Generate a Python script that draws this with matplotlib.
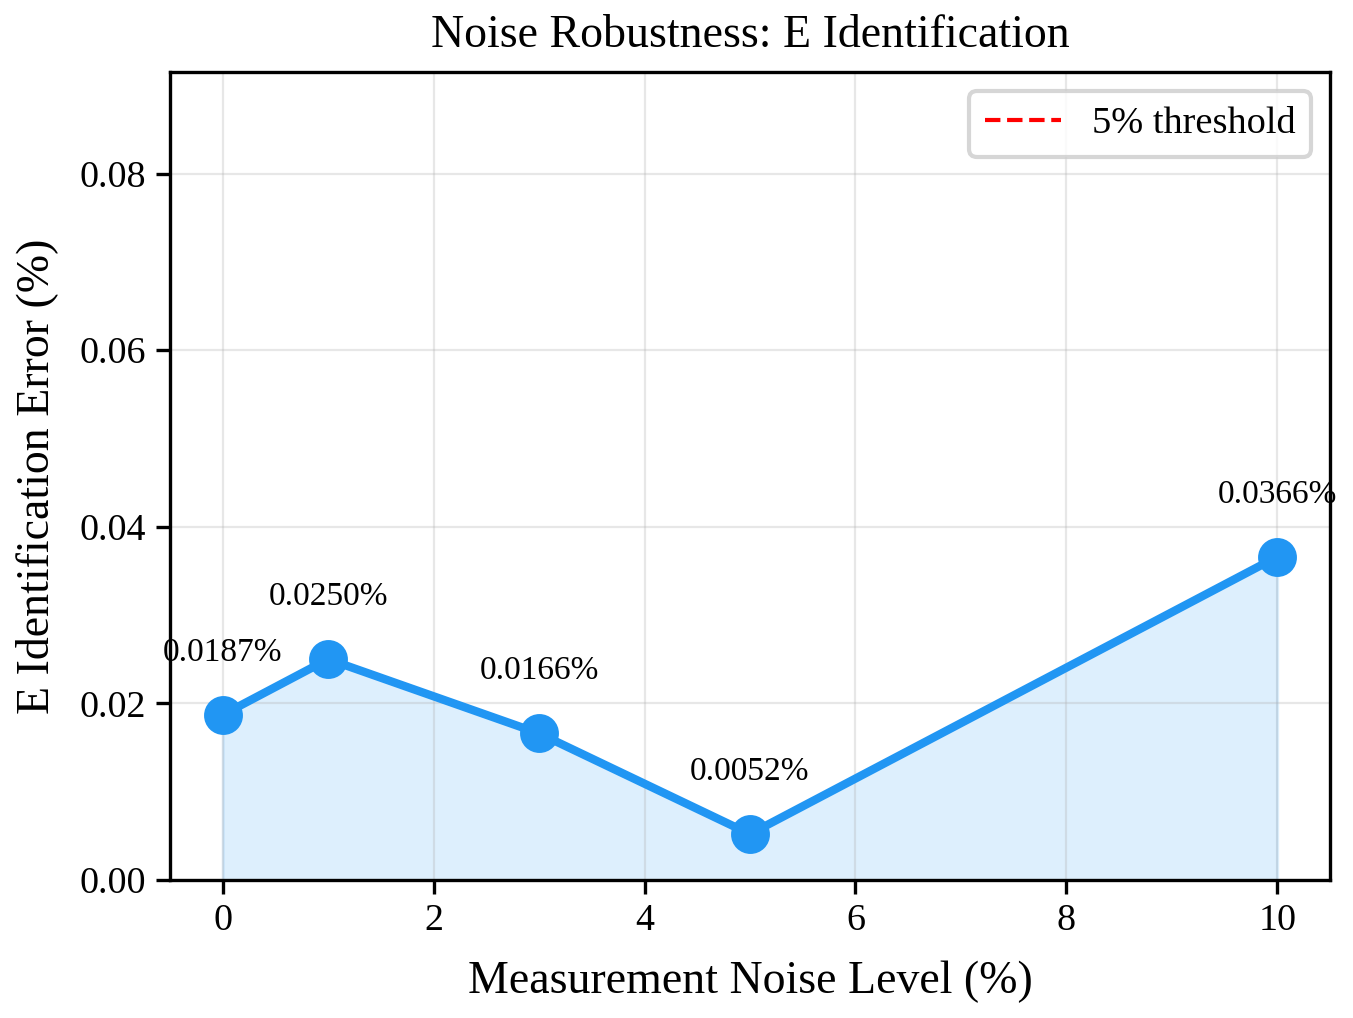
import numpy as np
import matplotlib
matplotlib.use("Agg")
import matplotlib.pyplot as plt

# --- Data ---
noise_levels = [0, 1, 3, 5, 10]
e_errors = [0.0187, 0.0250, 0.0166, 0.0052, 0.0366]
threshold = 5.0

# --- Style ---
plt.rcParams["font.family"] = ["Liberation Serif", "DejaVu Serif"]
plt.rcParams["mathtext.fontset"] = "stix"

color = "#2196F3"

fig, ax = plt.subplots(figsize=(6.765, 5.09), dpi=200)
ax.plot(noise_levels, e_errors, "o-", color=color, lw=3, ms=13)
ax.fill_between(noise_levels, e_errors, color=color, alpha=0.15)
ax.axhline(threshold, color="red", ls="--", lw=1.5, label="5% threshold")

for x, y in zip(noise_levels, e_errors):
    ax.annotate(f"{y:.4f}%", (x, y), textcoords="offset points", xytext=(0, 17),
                ha="center", va="bottom", fontsize=12)

ax.set_ylim(0, max(e_errors) * 2.5)
ax.set_xlim(-0.5, 10.5)
ax.set_xlabel("Measurement Noise Level (%)", fontsize=16.5, labelpad=8)
ax.set_ylabel("E Identification Error (%)", fontsize=16.5, labelpad=8)
ax.set_title("Noise Robustness: E Identification", fontsize=16.5, pad=9)
ax.tick_params(labelsize=13.7, width=1.2, length=5)
for s in ax.spines.values():
    s.set_linewidth(1.2)
ax.grid(True, alpha=0.3)
leg = ax.legend(fontsize=13.8, loc="upper right", fancybox=True, framealpha=0.8)
leg.get_frame().set_linewidth(1.5)

fig.subplots_adjust(left=0.1256, right=0.983, top=0.9293, bottom=0.1356)
plt.savefig("out.png", dpi=200)
